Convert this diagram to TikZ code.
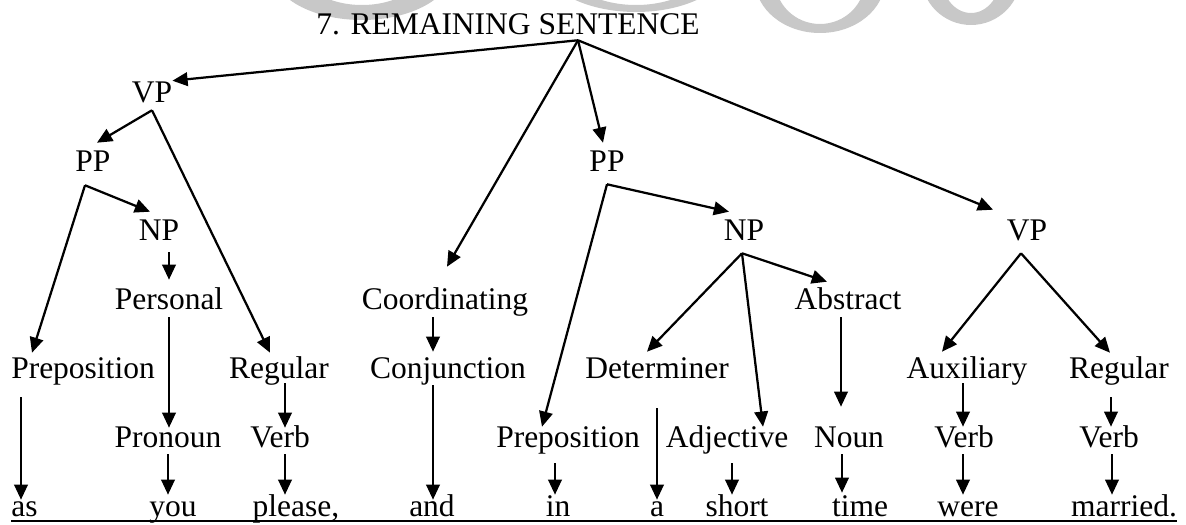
\documentclass[tikz,border=0pt]{standalone}
\usepackage{fontspec}
\setmainfont{Liberation Serif}
\usetikzlibrary{arrows.meta}
\definecolor{wmgrey}{RGB}{200,200,200}

\begin{document}
\begin{tikzpicture}[
  x=0.025cm, y=-0.025cm,
  lbl/.style={anchor=base, inner sep=0pt, text height=0.55cm, text depth=0.175cm, font=\fontsize{22.4}{27}\selectfont},
  arr/.style={-{Triangle[length=0.38cm, width=0.34cm]}, line width=1.6pt},
]
\useasboundingbox (0,0) rectangle (1186,525);

% faint logo at the top edge
\begin{scope}
  \clip (0,0) rectangle (1186,525);
  \fill[wmgrey, even odd rule] (362,-30) ellipse [x radius=90, y radius=50] (362,-30) ellipse [x radius=60, y radius=35];
  \fill[wmgrey, even odd rule] (636,-40) ellipse [x radius=95, y radius=52] (636,-40) ellipse [x radius=75, y radius=45];
  \fill[wmgrey, even odd rule] (820,-20) ellipse [x radius=65, y radius=53] (820,-20) ellipse [x radius=45, y radius=44];
  \fill[wmgrey, even odd rule] (971,-25) ellipse [x radius=50, y radius=50] (971,-25) ellipse [x radius=30, y radius=38];
\end{scope}

% title
\node[lbl] (title) at (508,35) {7. REMAINING SENTENCE};
\coordinate (apex) at ([shift={(70,-2)}]title.south);

% left verb phrase
\node[lbl] (vpL) at (152,103) {VP};
\node[lbl] (ppL) at (93,172) {PP};
\node[lbl] (npL) at (159,241) {NP};
\node[lbl] (pers) at (169,310) {Personal};
\node[lbl] (prepL) at (83,378) {Preposition};
\node[lbl] (regL) at (279,378) {Regular};
\node[lbl] (pron) at (168,447) {Pronoun};
\node[lbl] (verbL) at (280,447) {Verb};

% conjunction
\node[lbl] (coord) at (445,310) {Coordinating};
\node[lbl] (conj) at (448,378) {Conjunction};

% middle prepositional phrase
\node[lbl] (ppM) at (607,172) {PP};
\node[lbl] (npM) at (744,241) {NP};
\node[lbl] (abst) at (848,310) {Abstract};
\node[lbl] (det) at (657,378) {Determiner};
\node[lbl] (prepM) at (568,447) {Preposition};
\node[lbl] (adj) at (727,447) {Adjective};
\node[lbl] (noun) at (849,447) {Noun};

% right verb phrase
\node[lbl] (vpR) at (1027,241) {VP};
\node[lbl] (aux) at (967,378) {Auxiliary};
\node[lbl] (regR) at (1119,378) {Regular};
\node[lbl] (verbA) at (964,447) {Verb};
\node[lbl] (verbR) at (1109,447) {Verb};

% the sentence
\node[lbl] (w-as) at (24.5,516) {as};
\node[lbl] (w-you) at (173,516) {you};
\node[lbl] (w-please) at (296,516) {please,};
\node[lbl] (w-and) at (432,516) {and};
\node[lbl] (w-in) at (558,516) {in};
\node[lbl] (w-a) at (657,516) {a};
\node[lbl] (w-short) at (737,516) {short};
\node[lbl] (w-time) at (860,516) {time};
\node[lbl] (w-were) at (968,516) {were};
\node[lbl] (w-married) at (1124,516) {married.};
\draw[line width=1.6pt] ([shift={(0,5)}]w-as.base west) -- ([shift={(0,5)}]w-married.base east);

% root branches
\draw[arr] (apex) -- (vpL.north east);
\draw[arr] (apex) -- ([shift={(2,-21)}]coord.north);
\draw[arr] (apex) -- ([shift={(-4,-7)}]ppM.north);
\draw[arr] (apex) -- ([shift={(-34,-9)}]vpR.north);

% left VP
\draw[arr] (vpL.south) -- ([shift={(4,-7)}]ppL.north);
\draw[arr] (vpL.south) -- ([shift={(-9,-3)}]regL.north);
\draw[arr] ([shift={(-8,6)}]ppL.south) -- ([shift={(-9,-7)}]npL.north);
\draw[arr] ([shift={(-8,6)}]ppL.south) -- ([shift={(-51,-3)}]prepL.north);
\draw[arr] ([shift={(10,4)}]npL.south) -- ([shift={(0,-8)}]pers.north);
\draw[arr] (pers.south) -- ([shift={(1,3)}]pron.north);
\draw[arr] ([shift={(6,-2)}]regL.south) -- ([shift={(5,3)}]verbL.north);
\draw[arr] ([shift={(-62,12)}]prepL.south) -- ([shift={(-3.5,6)}]w-as.north);
\draw[arr] (pron.south) -- ([shift={(-5,1)}]w-you.north);
\draw[arr] ([shift={(5,0)}]verbL.south) -- ([shift={(-11,1)}]w-please.north);

% conjunction
\draw[arr] ([shift={(-12,0)}]coord.south) -- ([shift={(-15,-4)}]conj.north);
\draw[arr] ([shift={(-15,0)}]conj.south) -- ([shift={(1,6)}]w-and.north);

% middle PP
\draw[arr] ([shift={(0,5)}]ppM.south) -- ([shift={(-15,-7)}]npM.north);
\draw[arr] ([shift={(0,5)}]ppM.south) -- ([shift={(-26,2)}]prepM.north);
\draw[arr] ([shift={(-13,9)}]prepM.south) -- ([shift={(-3,1)}]w-in.north);
\draw[arr] ([shift={(-2,5)}]npM.south) -- ([shift={(-10,-4)}]det.north);
\draw[arr] ([shift={(-2,5)}]npM.south) -- ([shift={(36,2)}]adj.north);
\draw[arr] ([shift={(-2,5)}]npM.south) -- ([shift={(-21,-6)}]abst.north);
\draw[arr] ([shift={(0,23)}]det.south) -- ([shift={(0,6)}]w-a.north);
\draw[arr] ([shift={(5,9)}]adj.south) -- ([shift={(-5,1)}]w-short.north);
\draw[arr] ([shift={(-7,0)}]abst.south) -- ([shift={(-8,-18)}]noun.north);
\draw[arr] ([shift={(-7,0)}]noun.south) -- ([shift={(-18,-1)}]w-time.north);

% right VP
\draw[arr] ([shift={(-6,5)}]vpR.south) -- ([shift={(-25,-4)}]aux.north);
\draw[arr] ([shift={(-6,5)}]vpR.south) -- ([shift={(-9,-3)}]regR.north);
\draw[arr] ([shift={(-4,-2)}]aux.south) -- ([shift={(-1,2)}]verbA.north);
\draw[arr] ([shift={(-8,12)}]regR.south) -- ([shift={(2,2)}]verbR.north);
\draw[arr] ([shift={(-1,0)}]verbA.south) -- ([shift={(-5,1)}]w-were.north);
\draw[arr] ([shift={(3,0)}]verbR.south) -- ([shift={(-12,1)}]w-married.north);

\end{tikzpicture}
\end{document}
